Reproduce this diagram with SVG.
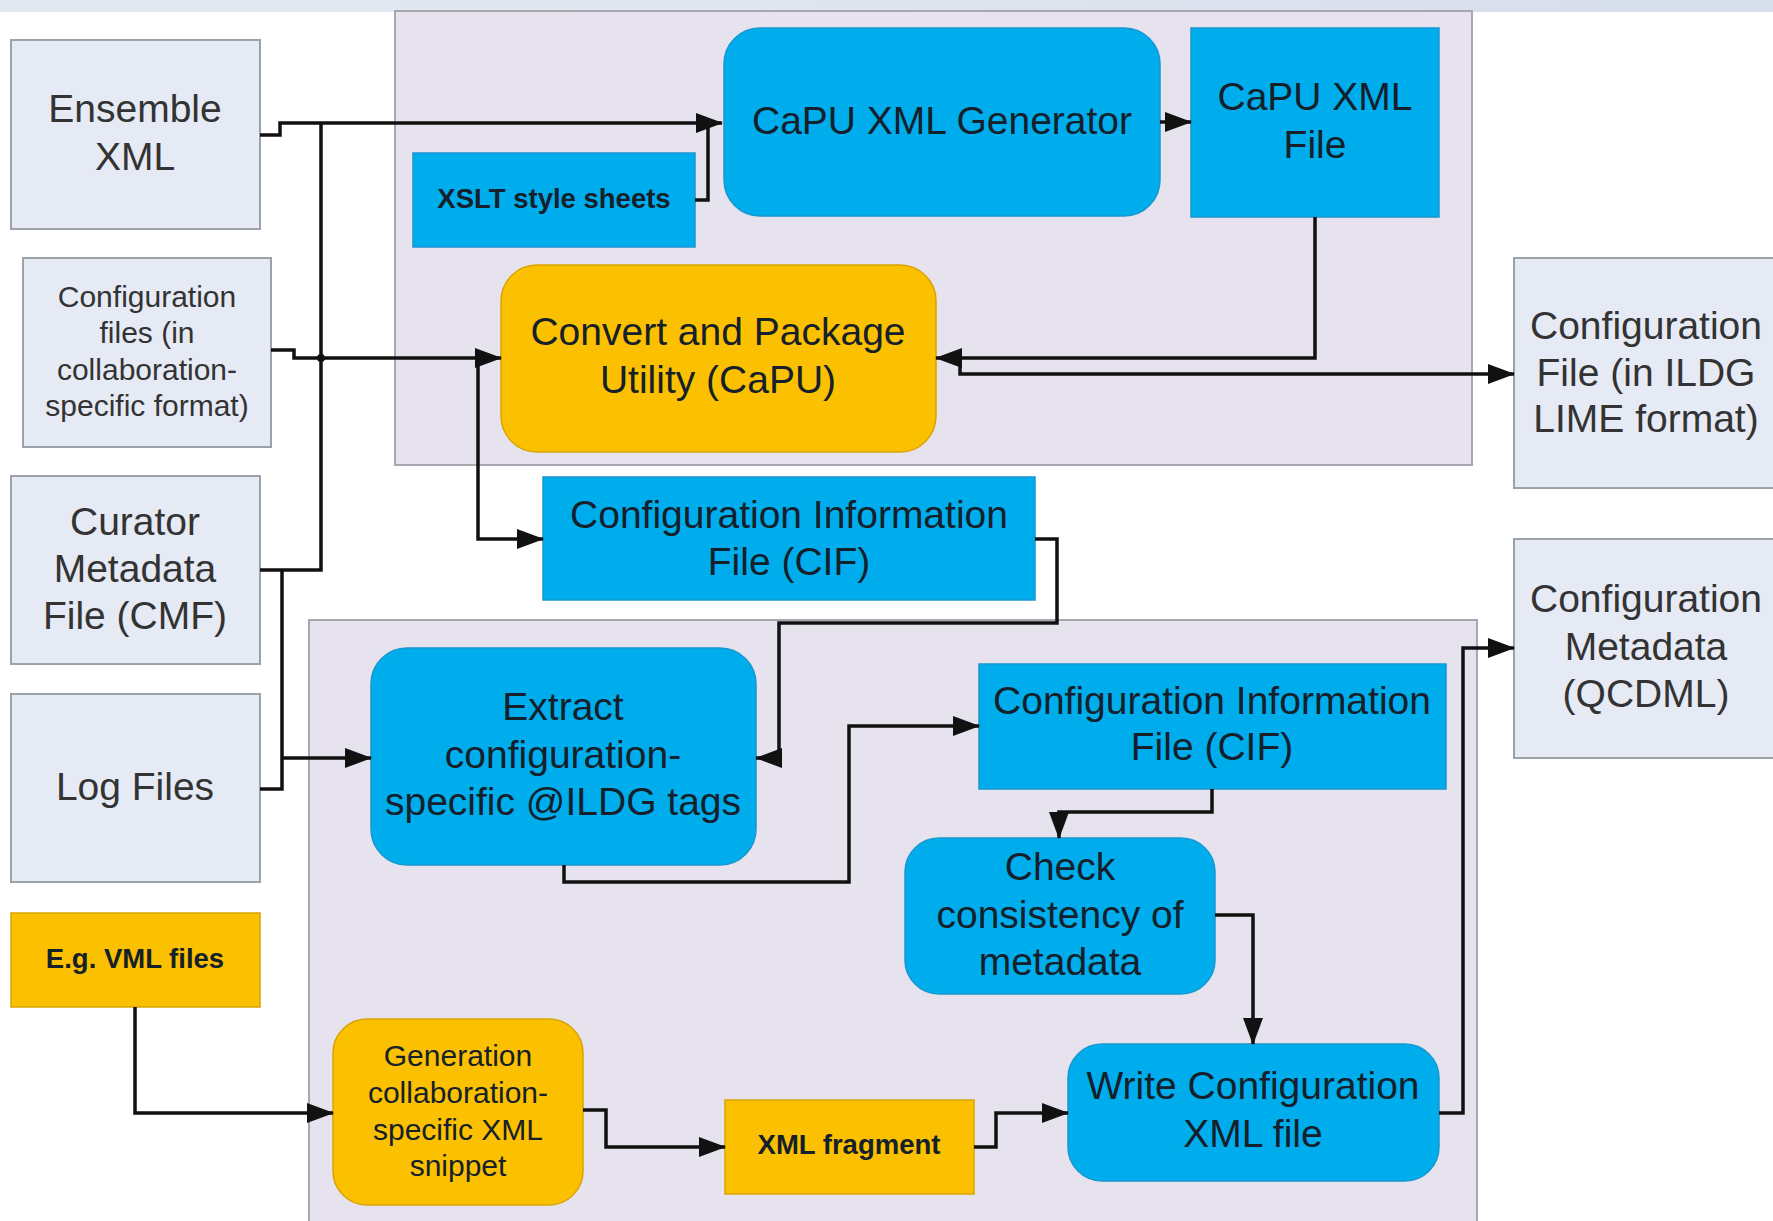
<svg xmlns="http://www.w3.org/2000/svg" width="1773" height="1221" viewBox="0 0 1773 1221">
<defs>
<linearGradient id="topg" x1="0" y1="0" x2="1" y2="0">
<stop offset="0" stop-color="#e3e8f0"/><stop offset="0.5" stop-color="#dfe5ef"/><stop offset="1" stop-color="#d6deeb"/>
</linearGradient>
<marker id="ah" viewBox="0 0 27 20" refX="26" refY="10" markerWidth="27" markerHeight="20" markerUnits="userSpaceOnUse" orient="auto"><path d="M0,0 L27,10 L0,20 z" fill="#111"/></marker>
<style>
.cont{fill:#e6e2ee;stroke:#a9a6b0;stroke-width:2}
.gray{fill:#e5eaf5;stroke:#9da1a8;stroke-width:2}
.blue{fill:#00adec;stroke:#1797cf;stroke-width:1.5}
.orange{fill:#fbc000;stroke:#d9a400;stroke-width:1.5}
text{font-family:"Liberation Sans",Arial,sans-serif;text-anchor:middle}
.big{font-size:39px}
.mid{font-size:30px}
.sm{font-size:27.5px;font-weight:bold}
.tg{fill:#333333}
.tb{fill:#15202a}
.con{fill:none;stroke:#111;stroke-width:3.5;stroke-linejoin:miter}
</style>
</defs>
<rect x="0" y="0" width="1773" height="1221" fill="#ffffff"/>
<rect x="0" y="0" width="1773" height="12" fill="url(#topg)"/>

<g id="container-top"><rect class="cont" x="395" y="11" width="1077" height="454"/></g>
<g id="container-bottom"><rect class="cont" x="309" y="620" width="1168" height="610"/></g>

<g id="ensemble-xml"><rect class="gray" x="11" y="40" width="249" height="189"/>
<text class="big tg" x="135" y="122">Ensemble</text><text class="big tg" x="135" y="170">XML</text></g>

<g id="config-files"><rect class="gray" x="23" y="258" width="248" height="189"/>
<text class="mid tg" x="147" y="307">Configuration</text><text class="mid tg" x="147" y="343">files (in</text><text class="mid tg" x="147" y="380">collaboration-</text><text class="mid tg" x="147" y="416">specific format)</text></g>

<g id="curator"><rect class="gray" x="11" y="476" width="249" height="188"/>
<text class="big tg" x="135" y="535">Curator</text><text class="big tg" x="135" y="582">Metadata</text><text class="big tg" x="135" y="629">File (CMF)</text></g>

<g id="log-files"><rect class="gray" x="11" y="694" width="249" height="188"/>
<text class="big tg" x="135" y="800">Log Files</text></g>

<g id="vml-files"><rect class="orange" x="11" y="913" width="249" height="94"/>
<text class="sm tb" x="135" y="968">E.g. VML files</text></g>

<g id="capu-xml-generator"><rect class="blue" x="724" y="28" width="436" height="188" rx="36"/>
<text class="big tb" x="942" y="134">CaPU XML Generator</text></g>

<g id="capu-xml-file"><rect class="blue" x="1191" y="28" width="248" height="189"/>
<text class="big tb" x="1315" y="110">CaPU XML</text><text class="big tb" x="1315" y="158">File</text></g>

<g id="xslt"><rect class="blue" x="413" y="153" width="282" height="94"/>
<text class="sm tb" x="554" y="208">XSLT style sheets</text></g>

<g id="capu"><rect class="orange" x="501" y="265" width="435" height="187" rx="36"/>
<text class="big tb" x="718" y="345">Convert and Package</text><text class="big tb" x="718" y="393">Utility (CaPU)</text></g>

<g id="config-lime"><rect class="gray" x="1514" y="258" width="280" height="230"/>
<text class="big tg" x="1646" y="339">Configuration</text><text class="big tg" x="1646" y="386">File (in ILDG</text><text class="big tg" x="1646" y="432">LIME format)</text></g>

<g id="cif-top"><rect class="blue" x="543" y="477" width="492" height="123"/>
<text class="big tb" x="789" y="528">Configuration Information</text><text class="big tb" x="789" y="575">File (CIF)</text></g>

<g id="config-metadata"><rect class="gray" x="1514" y="539" width="280" height="219"/>
<text class="big tg" x="1646" y="612">Configuration</text><text class="big tg" x="1646" y="660">Metadata</text><text class="big tg" x="1646" y="707">(QCDML)</text></g>

<g id="extract"><rect class="blue" x="371" y="648" width="385" height="217" rx="36"/>
<text class="big tb" x="563" y="720">Extract</text><text class="big tb" x="563" y="768">configuration-</text><text class="big tb" x="563" y="815">specific @ILDG tags</text></g>

<g id="cif-inner"><rect class="blue" x="979" y="664" width="467" height="125"/>
<text class="big tb" x="1212" y="714">Configuration Information</text><text class="big tb" x="1212" y="760">File (CIF)</text></g>

<g id="check"><rect class="blue" x="905" y="838" width="310" height="156" rx="34"/>
<text class="big tb" x="1060" y="880">Check</text><text class="big tb" x="1060" y="928">consistency of</text><text class="big tb" x="1060" y="975">metadata</text></g>

<g id="write"><rect class="blue" x="1068" y="1044" width="371" height="137" rx="34"/>
<text class="big tb" x="1253" y="1099">Write Configuration</text><text class="big tb" x="1253" y="1147">XML file</text></g>

<g id="xml-fragment"><rect class="orange" x="725" y="1100" width="249" height="94"/>
<text class="sm tb" x="849" y="1154">XML fragment</text></g>

<g id="generation"><rect class="orange" x="333" y="1019" width="250" height="186" rx="34"/>
<text class="mid tb" x="458" y="1066">Generation</text><text class="mid tb" x="458" y="1103">collaboration-</text><text class="mid tb" x="458" y="1140">specific XML</text><text class="mid tb" x="458" y="1176">snippet</text></g>

<g id="connectors">
<path class="con" d="M260,135 H280 V123 H722" marker-end="url(#ah)"/>
<path class="con" d="M695,200 H708 V123"/>
<path class="con" d="M260,570 H321 V123"/>
<path class="con" d="M282,570 V789 H260"/>
<path class="con" d="M282,758 H371" marker-end="url(#ah)"/>
<path class="con" d="M271,350 H294 V358 H501" marker-end="url(#ah)"/>
<circle cx="321" cy="358" r="4" fill="#111"/>
<path class="con" d="M478,352 V539 H543" marker-end="url(#ah)"/>
<path class="con" d="M1160,122 H1191" marker-end="url(#ah)"/>
<path class="con" d="M1315,217 V358 H936" marker-end="url(#ah)"/>
<path class="con" d="M960,358 V374 H1514" marker-end="url(#ah)"/>
<path class="con" d="M1035,539 H1057 V623 H779 V758 H756" marker-end="url(#ah)"/>
<path class="con" d="M564,865 V882 H849 V726 H979" marker-end="url(#ah)"/>
<path class="con" d="M1212,789 V812 H1059 V838" marker-end="url(#ah)"/>
<path class="con" d="M1215,915 H1253 V1044" marker-end="url(#ah)"/>
<path class="con" d="M1439,1113 H1463 V648 H1514" marker-end="url(#ah)"/>
<path class="con" d="M135,1007 V1113 H333" marker-end="url(#ah)"/>
<path class="con" d="M583,1110 H606 V1147 H725" marker-end="url(#ah)"/>
<path class="con" d="M974,1147 H996 V1113 H1068" marker-end="url(#ah)"/>
</g>
</svg>
